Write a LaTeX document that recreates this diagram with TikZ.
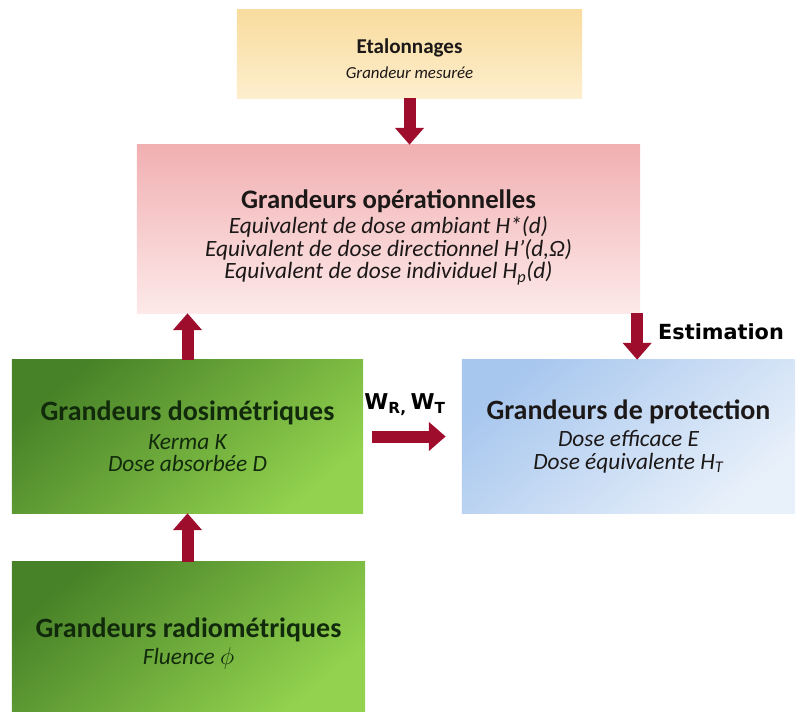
\documentclass[tikz,border=0pt]{standalone}
\usepackage{fontspec}
\setmainfont{Carlito}
\newfontfamily\etiqfont{DejaVu Sans}
\usepackage{xcolor}
\usetikzlibrary{arrows.meta}
\definecolor{figarrow}{RGB}{158,14,44}
\definecolor{etalhaut}{RGB}{249,220,158}
\definecolor{etalbas}{RGB}{253,238,205}
\definecolor{operhaut}{RGB}{241,176,178}
\definecolor{operbas}{RGB}{253,233,233}
\definecolor{verthaut}{RGB}{72,130,40}
\definecolor{vertbas}{RGB}{146,210,78}
\definecolor{bleuhaut}{RGB}{168,199,238}
\definecolor{bleubas}{RGB}{232,240,250}
\definecolor{txtfonce}{RGB}{28,24,24}
\definecolor{txtvert}{RGB}{18,42,12}
\newcommand{\serre}{\lineskiplimit -20pt\relax}
\tikzset{
  boite/.style ={inner sep=0pt, align=center, text=txtfonce,
                 font=\fontsize{16.6}{16}\selectfont\serre},
  boitev/.style={boite, text=txtvert, top color=verthaut, bottom color=vertbas, shading angle=40},
  fleche/.style={draw=figarrow, line width=0.3cm, -{Triangle[length=0.42cm,width=0.7cm]}},
  etiq/.style  ={font=\etiqfont\bfseries\fontsize{14.8}{14}\selectfont, inner sep=1pt},
}
\newcommand{\grtitre}[1]{{\bfseries\fontsize{19.9}{16}\selectfont #1}}
\begin{document}
\begin{tikzpicture}[x=0.025cm,y=-0.025cm]
  \useasboundingbox (0,0) rectangle (799,711);
  % boites
  \node[boite, minimum width=8.625cm, minimum height=2.2cm,
        top color=etalhaut, bottom color=etalbas] (etal) at (409.5,54)
    {{\bfseries\fontsize{15}{14}\selectfont\rule{0pt}{17pt}Etalonnages}\\[2pt]
     {\itshape\fontsize{12}{14}\selectfont Grandeur mesurée}};
  \node[boite, minimum width=12.575cm, minimum height=4.2cm,
        top color=operhaut, bottom color=operbas] (oper) at (388.5,229)
    {{\bfseries\fontsize{19}{16}\selectfont\rule{0pt}{25pt}Grandeurs opérationnelles}\\[2pt]
     \itshape Equivalent de dose ambiant H*(d)\\
     \itshape Equivalent de dose directionnel H’(d,Ω)\\
     \itshape Equivalent de dose individuel H\textsubscript{p}(d)};
  \node[boitev, minimum width=8.775cm, minimum height=3.825cm] (dosi) at (187.5,436.5)
    {\grtitre{Grandeurs dosimétriques}\\[4pt]
     \itshape Kerma K\\
     \itshape Dose absorbée D};
  \node[boite, minimum width=8.325cm, minimum height=3.825cm,
        top color=bleuhaut, bottom color=bleubas, shading angle=40] (prot) at (628.5,436.5)
    {\grtitre{Grandeurs de protection}\\[3pt]
     \itshape Dose efficace E\\
     \itshape Dose équivalente H\textsubscript{T}};
  \node[boitev, minimum width=8.825cm, minimum height=3.725cm] (radio) at (188.5,636.5)
    {\grtitre{\rule{0pt}{24pt}Grandeurs radiométriques}\\[3pt]
     \itshape Fluence $\phi$};
  % fleches
  \draw[fleche] (etal.south) -- (etal.south |- oper.north);
  \draw[fleche] (dosi.north) -- (dosi.north |- oper.south);
  \draw[fleche] (radio.north -| dosi.south) -- (dosi.south);
  \draw[fleche] ([xshift=-0.08cm]oper.south east) -- ([xshift=-0.08cm]oper.south east |- prot.north);
  \draw[fleche, shorten <=0.225cm, shorten >=0.4cm] (dosi.east) -- (prot.west);
  % etiquettes
  \node[etiq] (lblest) at (721,332) {Estimation};
  \node[etiq, font=\etiqfont\bfseries\fontsize{15.5}{14}\selectfont] (lblw) at (405,405)
    {W\textsubscript{R,}\,W\textsubscript{T}};
\end{tikzpicture}
\end{document}
